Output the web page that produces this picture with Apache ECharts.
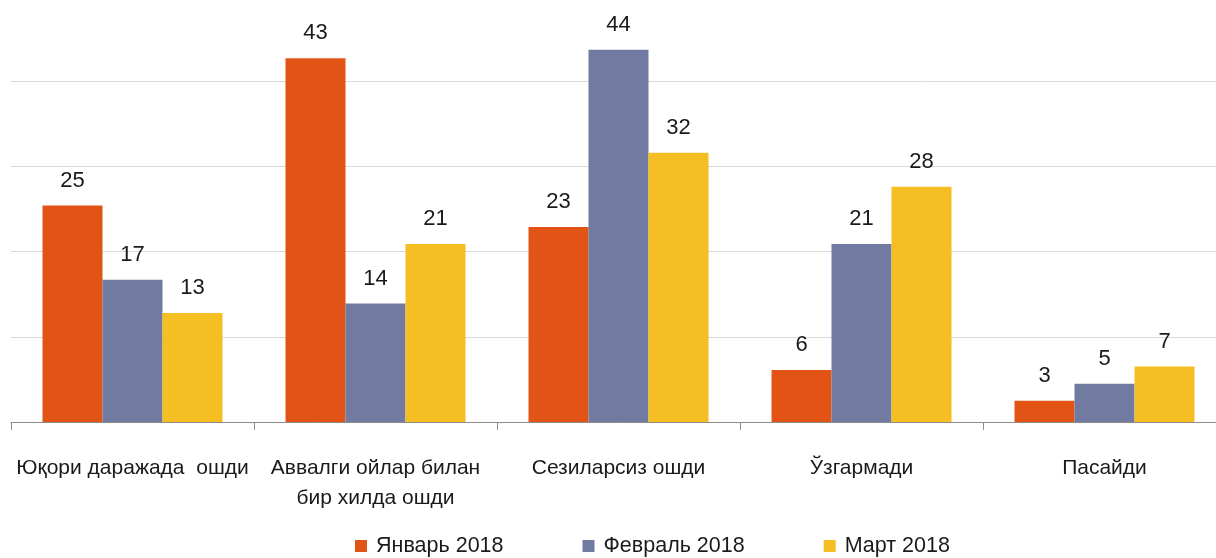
<!DOCTYPE html>
<html>
<head>
<meta charset="utf-8">
<script src="https://cdn.jsdelivr.net/npm/echarts@6/dist/echarts.min.js"></script>
<style>
  html, body { margin: 0; padding: 0; background: #fff; overflow: hidden; width: 1216px; height: 558px; position: relative; }
  /* chart box slightly larger than the page: the plot runs past the top and right edges */
  #chart { position: absolute; left: 0; top: -4px; width: 1226px; height: 562px; }
</style>
</head>
<body>
<div id="chart"></div>
<script>
// categories and series values (labels show rounded values)
var categories = ["Юқори даражада  ошди", "Аввалги ойлар билан\nбир хилда ошди", "Сезиларсиз ошди", "Ўзгармади", "Пасайди"];
var seriesNames = ["Январь 2018", "Февраль 2018", "Март 2018"];
var jan = [25.4, 42.7, 22.9, 6.1, 2.5];
var feb = [16.7, 13.9, 43.7, 20.9, 4.5];
var mar = [12.8, 20.9, 31.6, 27.6, 6.5];
var colors = ["#E25416", "#717BA1", "#F5BE22"];

var font = "'Liberation Sans', Arial, sans-serif";

var chart = echarts.init(document.getElementById("chart"));

function makeSeries(name, data, color) {
  return {
    name: name,
    type: "bar",
    data: data,
    barWidth: 60,
    barGap: "0%",
    itemStyle: { color: color },
    label: {
      show: true,
      position: "top",
      distance: 14,
      fontFamily: font,
      fontSize: 22,
      color: "#1a1a1a",
      formatter: function (p) { return Math.round(p.value); }
    }
  };
}

var option = {
  animation: false,
  textStyle: { fontFamily: font },
  grid: { left: 11, right: 0, top: 0, height: 426, containLabel: false },
  legend: {
    bottom: -4,
    left: 350,
    itemGap: 79,
    itemWidth: 12,
    itemHeight: 12,
    icon: "rect",
    textStyle: { fontFamily: font, fontSize: 21.5, color: "#1a1a1a", padding: [0, 0, 0, 4] },
    data: seriesNames
  },
  xAxis: {
    type: "category",
    data: categories,
    axisLine: { lineStyle: { color: "#8c8c8c", width: 1 } },
    axisTick: { show: true, length: 8, lineStyle: { color: "#8c8c8c" } },
    axisLabel: {
      margin: 31,
      fontFamily: font,
      fontSize: 21,
      color: "#1a1a1a",
      lineHeight: 30,
      interval: 0
    }
  },
  yAxis: {
    type: "value",
    min: 0,
    max: 50,
    interval: 10,
    axisLine: { show: false },
    axisTick: { show: false },
    axisLabel: { show: false },
    splitLine: { lineStyle: { color: "#d9d9d9", width: 1 } }
  },
  series: [
    makeSeries(seriesNames[0], jan, colors[0]),
    makeSeries(seriesNames[1], feb, colors[1]),
    makeSeries(seriesNames[2], mar, colors[2])
  ]
};

option && chart.setOption(option);
</script>
</body>
</html>
